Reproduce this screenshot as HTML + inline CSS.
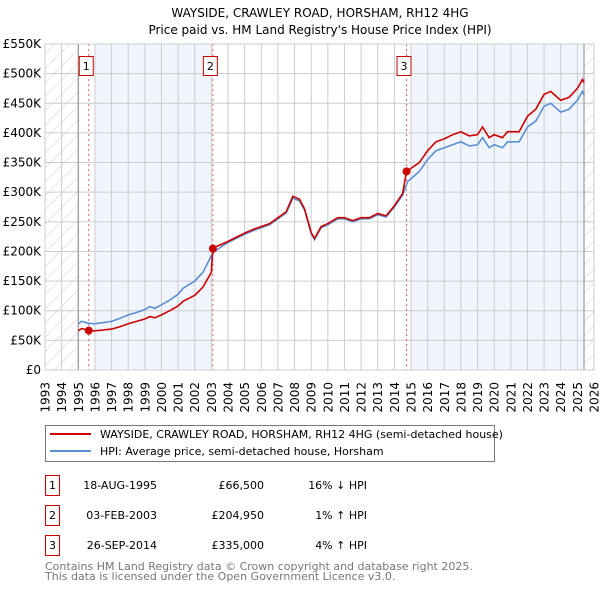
<!DOCTYPE html>
<html><head><meta charset="utf-8"><style>
body{margin:0;background:#fff;font-family:"DejaVu Sans","Liberation Sans",sans-serif;}
svg text{font-family:"DejaVu Sans","Liberation Sans",sans-serif;}
</style></head><body>
<svg id="chart" width="600" height="590" xmlns="http://www.w3.org/2000/svg">
<defs><pattern id="hatch" patternUnits="userSpaceOnUse" width="10" height="10" patternTransform="rotate(45)"><line x1="0" y1="0" x2="0" y2="10" stroke="#ccc" stroke-width="1"/></pattern></defs>
<text x="320" y="17" font-size="12" text-anchor="middle">WAYSIDE, CRAWLEY ROAD, HORSHAM, RH12 4HG</text>
<text x="320" y="34" font-size="12" text-anchor="middle">Price paid vs. HM Land Registry's House Price Index (HPI)</text>
<g id="plot"></g>
<g>
<rect x="45.5" y="425.5" width="449" height="36" fill="#fff" stroke="#777"/>
<line x1="50" y1="434" x2="91" y2="434" stroke="#cc0000" stroke-width="2"/>
<text x="100" y="438" font-size="11">WAYSIDE, CRAWLEY ROAD, HORSHAM, RH12 4HG (semi-detached house)</text>
<line x1="50" y1="451" x2="91" y2="451" stroke="#5b8fd4" stroke-width="2"/>
<text x="100" y="455" font-size="11">HPI: Average price, semi-detached house, Horsham</text>
</g>
<g id="table" font-size="11"></g>
<text x="45" y="570" font-size="11" fill="#777">Contains HM Land Registry data © Crown copyright and database right 2025.</text>
<text x="45" y="580" font-size="11" fill="#777">This data is licensed under the Open Government Licence v3.0.</text>
</svg>
<script>
const hpiDates=[1995.0,1995.2,1995.6,1996,1997,1997.5,1998,1998.5,1999,1999.3,1999.6,2000,2000.5,2001,2001.3,2002,2002.5,2003,2003.2,2003.6,2004,2004.5,2005,2005.5,2006,2006.5,2007,2007.5,2007.9,2008.3,2008.6,2009,2009.2,2009.6,2010,2010.6,2011,2011.5,2012,2012.5,2013,2013.5,2014,2014.5,2014.8,2015.5,2016,2016.5,2017,2017.5,2018,2018.5,2019,2019.3,2019.7,2020,2020.5,2020.8,2021.5,2022,2022.5,2023,2023.4,2023.8,2024,2024.5,2025,2025.3,2025.4];
const hpiValues=[78,82,79,78,82,87,93,97,102,107,104,110,118,128,138,150,165,193,200,208,215,222,229,235,240,245,255,265,290,285,270,230,220,240,245,255,255,250,255,255,262,258,275,295,318,335,355,370,375,380,385,378,380,392,375,380,375,385,385,410,420,445,450,440,435,440,455,470,465];
const priceDates=[1995.0,1995.2,1995.63,1996,1997,1997.5,1998,1998.5,1999,1999.3,1999.6,2000,2000.5,2001,2001.3,2002,2002.5,2003,2003.09,2003.2,2003.6,2004,2004.5,2005,2005.5,2006,2006.5,2007,2007.5,2007.9,2008.3,2008.6,2009,2009.2,2009.6,2010,2010.6,2011,2011.5,2012,2012.5,2013,2013.5,2014,2014.5,2014.73,2015.5,2016,2016.5,2017,2017.5,2018,2018.5,2019,2019.3,2019.7,2020,2020.5,2020.8,2021.5,2022,2022.5,2023,2023.4,2023.8,2024,2024.5,2025,2025.3,2025.4];
const priceValues=[66,70,66.5,66,69,73,78,82,86,90,88,93,100,108,116,126,140,165,205,207,212,217,224,231,237,242,247,257,267,293,288,272,232,222,242,247,257,257,252,257,257,264,260,277,298,335,350,370,385,390,397,402,395,397,410,392,397,392,402,402,428,440,465,470,460,455,460,475,490,485];
const saleDates=[1995.63,2003.09,2014.73];
const salePrices=[66.5,204.95,335];
const saleLabels=["1","2","3"];
const saleDateText=["18-AUG-1995","03-FEB-2003","26-SEP-2014"];
const salePriceText=["£66,500","£204,950","£335,000"];
const saleHpiText=["16% ↓ HPI","1% ↑ HPI","4% ↑ HPI"];
const yTicks=[0,50,100,150,200,250,300,350,400,450,500,550];
const yTickLabels=["£0","£50K","£100K","£150K","£200K","£250K","£300K","£350K","£400K","£450K","£500K","£550K"];
const xYears=[];for(let y=1993;y<=2026;y++)xYears.push(y);

const X0=45,X1=594,Y0=370,Y1=44;
const xs=v=>X0+(v-1993)/(2026-1993)*(X1-X0);
const ys=v=>Y0-v/550*(Y0-Y1);
const NS="http://www.w3.org/2000/svg";
const plot=document.getElementById('plot');
function mk(tag,attrs,parent){const e=document.createElementNS(NS,tag);for(const k in attrs)e.setAttribute(k,attrs[k]);(parent||plot).appendChild(e);return e;}

let r=mk('rect',{x:X0,y:Y1,width:X1-X0,height:Y0-Y1,fill:'#fff'});


r=mk('rect',{x:xs(1996),y:Y1,width:xs(2003.09)-xs(1996),height:Y0-Y1,fill:'#f1f5fd'});


r=mk('rect',{x:xs(2015),y:Y1,width:xs(2025.4)-xs(2015),height:Y0-Y1,fill:'#f1f5fd'});


r=mk('rect',{x:X0,y:Y1,width:xs(1995)-X0,height:Y0-Y1,fill:'url(#hatch)'});


r=mk('rect',{x:xs(2025.4),y:Y1,width:X1-xs(2025.4),height:Y0-Y1,fill:'url(#hatch)'});



yTicks.forEach((v,i)=>{
  const l=mk('line',{x1:X0,x2:X1,y1:ys(v),y2:ys(v),stroke:'#ccc','stroke-width':1});
  
  
  const t=mk('text',{x:X0-4,y:ys(v)+4,'font-size':12,'text-anchor':'end'});
  t.textContent=yTickLabels[i];
  
  
});
xYears.forEach(y=>{
  const l=mk('line',{x1:xs(y),x2:xs(y),y1:Y1,y2:Y0,stroke:'#ccc','stroke-width':1});
  
  
  const t=mk('text',{x:0,y:0,'font-size':12,'text-anchor':'end',transform:`translate(${xs(y)+4.5},${Y0+12}) rotate(-90)`});
  t.textContent=y;
  
  
});
let b=mk('line',{x1:xs(1995),x2:xs(1995),y1:Y1,y2:Y0,stroke:'#888'});


b=mk('line',{x1:xs(2025.4),x2:xs(2025.4),y1:Y1,y2:Y0,stroke:'#888'});



saleDates.forEach((d,i)=>{
  const l=mk('line',{x1:xs(d),x2:xs(d),y1:Y1,y2:Y0,stroke:'#e06666','stroke-dasharray':'2,3'});
  
  
  const bx=mk('rect',{x:xs(d)-9.5,y:56.5,width:14,height:19,fill:'#fff',stroke:'#cc0000'});
  
  
  const t=mk('text',{x:xs(d)-2.5,y:70,'font-size':11,'text-anchor':'middle'});
  t.textContent=saleLabels[i];
  
  
});

const hp=mk('polyline',{points:hpiDates.map((d,i)=>xs(d)+','+ys(hpiValues[i])).join(' '),fill:'none',stroke:'#5b8fd4','stroke-width':1.6});


const pp=mk('polyline',{points:priceDates.map((d,i)=>xs(d)+','+ys(priceValues[i])).join(' '),fill:'none',stroke:'#cc0000','stroke-width':1.6});


saleDates.forEach((d,i)=>{
  const c=mk('circle',{cx:xs(d),cy:ys(salePrices[i]),r:4,fill:'#cc0000'});
  
  
});
const fr=mk('rect',{x:X0,y:Y1,width:X1-X0,height:Y0-Y1,fill:'none',stroke:'#ccc'});



const tbl=document.getElementById('table');
saleLabels.forEach((lab,i)=>{
  const yy=475+i*30;
  const bx=mk('rect',{x:45.5,y:yy+0.5,width:14,height:20,fill:'#fff',stroke:'#cc0000'},tbl);
  
  
  let t=mk('text',{x:52.5,y:yy+14,'text-anchor':'middle'},tbl);t.textContent=lab;
  
  
  t=mk('text',{x:157,y:yy+14,'text-anchor':'end'},tbl);t.textContent=saleDateText[i];
  
  
  t=mk('text',{x:264,y:yy+14,'text-anchor':'end'},tbl);t.textContent=salePriceText[i];
  
  
  t=mk('text',{x:367,y:yy+14,'text-anchor':'end'},tbl);t.textContent=saleHpiText[i];
  
  
});
</script>
</body></html>
